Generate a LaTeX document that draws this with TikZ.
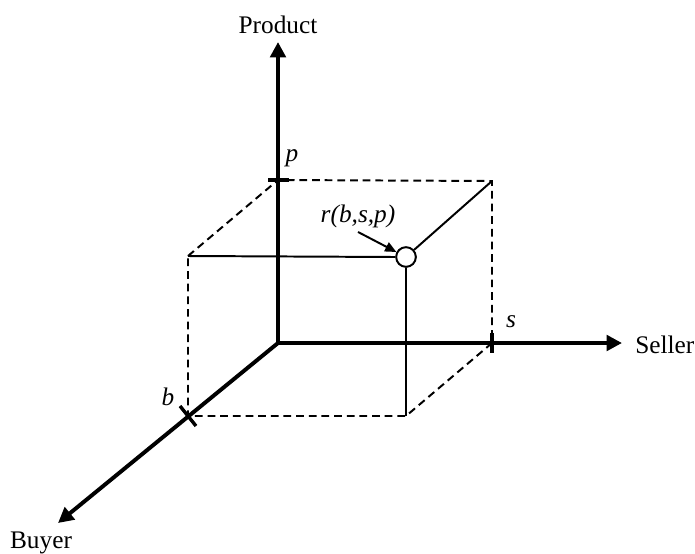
\documentclass[tikz,border=0pt]{standalone}
\usepackage{fontspec}
\setmainfont{Liberation Serif}
\usetikzlibrary{arrows.meta}

\begin{document}
\begin{tikzpicture}[x=0.025cm,y=-0.025cm,
  axis/.style={line width=2.8pt,-{Triangle[length=11pt,width=11pt]}},
  edge/.style={line width=1.4pt},
  hidden/.style={line width=1.4pt,dash pattern=on 5.5pt off 3.5pt},
  tickmark/.style={line width=2.4pt},
  lbl/.style={font=\fontsize{18}{20}\selectfont,inner sep=0pt},
  ptr/.style={line width=1.4pt,-{Triangle[length=8pt,width=7pt]}}]
\useasboundingbox (0,0) rectangle (695,553);
\coordinate (O) at (278,343);
\coordinate (P) at (278,180);
\coordinate (S) at (492,343);
\coordinate (B) at (188,416);
\coordinate (BP) at (188,256);
\coordinate (BS) at (406,416);
\coordinate (SP) at (492,181);
\coordinate (ytip) at (278,42);
\coordinate (xtip) at (622,343);
\coordinate (ztip) at (58,523);
\node[draw,circle,line width=1.4pt,fill=white,minimum size=14pt,inner sep=0pt] (r) at (406,257) {};

\draw[hidden] (BP) -- (P) -- (SP) -- (S) -- (BS) -- (B) -- cycle;
\draw[edge] (BP) -- (r.west);
\draw[edge] (r) -- (SP);
\draw[edge] (r) -- (BS);

\draw[axis] (O) -- (ytip);
\draw[axis] (O) -- (xtip);
\draw[axis] (O) -- (ztip);

\draw[tickmark] (268,180) -- (289,180);
\draw[tickmark] (492,333) -- (492,353);
\draw[tickmark] (180,406) -- (196,426);

\node[lbl] (ylab) at (278,25) {Product};
\node[lbl,anchor=west] (xlab) at (635,345) {Seller};
\node[lbl] (zlab) at (41,543) {Buyer};
\node[lbl] (plab) at (292,158) {\itshape p};
\node[lbl] (slab) at (511,322) {\itshape s};
\node[lbl] (blab) at (168,397) {\itshape b};
\node[lbl] (rlab) at (358,216) {\itshape r(b,s,p)};
\draw[ptr] ([yshift=-3pt]rlab.south) -- (r);
\end{tikzpicture}
\end{document}
